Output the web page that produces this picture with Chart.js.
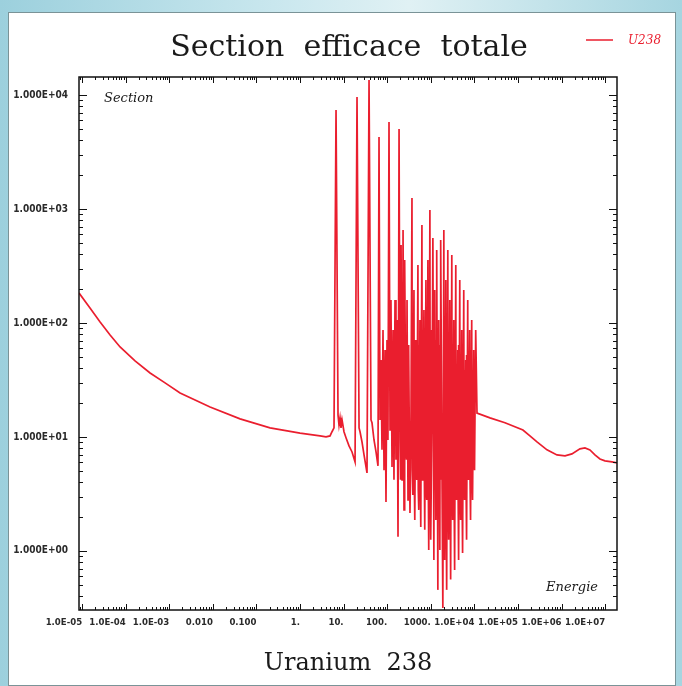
<!DOCTYPE html>
<html>
<head>
<meta charset="utf-8">
<script src="https://cdn.jsdelivr.net/npm/chart.js@4.4.1/dist/chart.umd.min.js"></script>
<style>
    body { margin: 0; width: 682px; height: 686px; position: relative; overflow: hidden;
           background: linear-gradient(90deg, #9cd0dd 0%, #c9e7ee 40%, #e0f1f4 60%, #a6d5e0 100%); }
    #cadre { position: absolute; left: 8px; top: 12px; width: 668px; height: 674px;
             background: #fff; border: 1px solid #7a9397; box-sizing: border-box; }
    #graf { position: absolute; left: 0; top: 0; }
</style>
</head>
<body>
<div id="cadre"></div>
<canvas id="graf" width="682" height="686"></canvas>
<script>
// Section efficace totale de l'U238 (barns) en fonction de l'energie (eV)
const energies = [
    8.53e-6, 1.52e-5, 2.59e-5, 4.39e-5, 7.44e-5, 1.64e-4, 3.63e-4, 8.01e-4, 1.77e-3, 8.63e-3,
    0.0421, 0.205, 1, 2.88,
    3.95, 4.88, 5.42, 6.02, 6.70, 7.44, 7.84, 8.27, 8.71, 9.20,
    10.2, 11.4, 13.3, 15.6, 18.3, 20.3, 22.6, 23.8, 26.4, 29.4,
    34.4, 38.3, 42.5, 44.8, 49.8, 55.4, 61.5, 64.9,
    68.4, 72.1, 76.0, 80.1, 84.5, 89.1, 93.8, 98.9, 104, 110,
    116, 122, 129, 136, 143, 151, 159, 168, 177, 187,
    197, 200.5, 204.1, 208, 219, 222.9, 226.9, 231, 243, 247.4, 251.7, 256,
    270, 274.9, 279.7, 285, 300, 305.4, 310.8, 316, 333, 351,
    370, 376.7, 383.3, 390, 411, 418.4, 425.8, 433, 457, 465.2, 473.5, 481,
    507, 516.1, 525.3, 535, 564, 574.2, 584.3, 594, 626, 637.3, 648.5, 660,
    696, 708.5, 721.1, 733, 773, 786.9, 800.8, 815, 859, 874.5, 889.9, 905,
    954, 971.2, 988.3, 1005, 1060, 1117,
    1177, 1198, 1219, 1241, 1308, 1332, 1355, 1378, 1453, 1479, 1505, 1531,
    1614, 1643, 1672, 1701, 1793, 1890,
    1992, 2028, 2064, 2099, 2213, 2253, 2293, 2332, 2458, 2502, 2546, 2591,
    2731, 2780, 2829, 2878, 3034, 3089, 3143, 3198, 3370, 3431, 3491, 3552,
    3744, 3811, 3879, 3946, 4159, 4234, 4309, 4384, 4621, 4704, 4787, 4870,
    5133, 5225, 5318, 5410, 5703, 5806, 5908, 6010, 6335, 6449, 6563, 6677,
    7038, 7165, 7291, 7418, 7818, 7959, 8099, 8241, 8686, 8842, 8999, 9155,
    9649, 9823, 9996, 10170, 10720,
    11480, 22800, 50300, 1.30e5, 1.88e5, 2.73e5, 4.63e5, 7.84e5, 1.20e6, 1.73e6,
    2.64e6, 3.44e6, 4.48e6, 5.83e6, 7.6e6, 9.9e6, 1.43e7, 1.87e7
]
const sections = [
    183, 135, 102, 78.5, 61.6, 46.4, 36.4, 29.8, 24.3, 18.3,
    14.4, 12.0, 10.8, 10.2,
    10.0, 10.2, 11.1, 12.0, 7390, 15.6, 12.7, 14.7, 12.0, 14.1,
    11.1, 9.8, 8.34, 7.38, 6.04, 9600, 12.0, 11.1, 9.04, 6.95,
    4.83, 13540, 14.1, 13.3, 9.4, 7.38, 5.57, 4280,
    14.1, 47.4, 7.7, 86.8, 5.1, 58, 2.69, 71, 9.4, 5800,
    11.5, 159, 5.45, 86.8, 4.2, 159, 6.3, 106, 1.33, 5040,
    9.4, 58, 4.2, 484, 4.2, 47.4, 5.1, 655, 2.29, 71, 3.43, 357,
    7.7, 42.8, 6.3, 159, 2.8, 64.1, 4.6, 58, 2.15, 14.1,
    1250, 5.1, 58, 3.10, 195, 4.2, 71, 1.87, 71, 6.3, 47.4, 4.2,
    323, 3.43, 64.1, 2.29, 106, 5.1, 52.4, 1.62, 724, 4.2, 78.5, 5.1,
    130, 5.7, 47.4, 1.53, 238, 3.43, 71, 2.8, 357, 4.6, 58, 1.02,
    980, 4.2, 86.8, 1.25, 14.1, 557,
    0.83, 58, 3.43, 195, 1.87, 71, 5.1, 437, 0.455, 47.4, 2.8, 106,
    1.02, 64.1, 4.2, 535, 7.7, 0.316,
    655, 4.2, 71, 0.83, 238, 2.8, 52.4, 0.455, 437, 5.1, 78.5, 1.25,
    159, 3.43, 47.4, 0.56, 395, 4.6, 64.1, 1.87, 106, 3.10, 58, 0.68,
    323, 5.1, 42.8, 2.8, 58, 3.43, 64.1, 0.83, 238, 4.2, 47.4, 1.87,
    86.8, 3.10, 58, 0.96, 195, 5.1, 38.7, 2.8, 47.4, 3.79, 52.4, 1.25,
    159, 5.1, 42.8, 4.2, 86.8, 4.2, 58, 1.87, 106, 5.1, 38.7, 2.8,
    58, 7.7, 31.6, 5.1, 86.8,
    16.2, 14.7, 13.3, 11.5, 10.2, 9.04, 7.7, 6.95, 6.81, 7.1,
    7.85, 8.0, 7.7, 6.95, 6.41, 6.16, 6.04, 5.92
]
const nomSerie = "U238"

// graduations
const xTickValues = [1e-5, 1e-4, 1e-3, 1e-2, 0.1, 1, 10, 100, 1000, 1e4, 1e5, 1e6, 1e7]
const xTickLabels = ["1.0E-05", "1.0E-04", "1.0E-03", "0.010", "0.100", "1.", "10.", "100.", "1000.", "1.0E+04", "1.0E+05", "1.0E+06", "1.0E+07"]
const yTickValues = [1, 10, 100, 1000, 10000]
const yTickLabels = ["1.000E+00", "1.000E+01", "1.000E+02", "1.000E+03", "1.000E+04"]

if (energies.length !== sections.length) console.warn("tailles differentes", energies.length, sections.length)

const rouge = "rgb(234, 30, 46)"
const fonteAxe = '"DejaVu Sans Condensed", "Liberation Sans Narrow", sans-serif'

// textes, cadre et graduations internes
const decor = {
    id: "decor",
    afterDatasetsDraw(chart) {
        const { ctx, chartArea: a, scales: { x, y } } = chart
        ctx.save()
        ctx.strokeStyle = "#111"
        ctx.lineWidth = 1
        ctx.beginPath()
        for (let e = -6; e <= 7; e++) {
            for (let m = 1; m <= 9; m++) {
                const v = m * Math.pow(10, e)
                if (v < x.min || v > x.max) continue
                const px = Math.round(x.getPixelForValue(v)) + 0.5
                const len = m === 1 ? 6 : 3
                ctx.moveTo(px, a.bottom); ctx.lineTo(px, a.bottom - len)
                ctx.moveTo(px, a.top); ctx.lineTo(px, a.top + len)
            }
        }
        for (let e = -1; e <= 4; e++) {
            for (let m = 1; m <= 9; m++) {
                const v = m * Math.pow(10, e)
                if (v < y.min || v > y.max) continue
                const py = Math.round(y.getPixelForValue(v)) + 0.5
                const len = m === 1 ? 8 : 4
                ctx.moveTo(a.left, py); ctx.lineTo(a.left + len, py)
                ctx.moveTo(a.right, py); ctx.lineTo(a.right - len, py)
            }
        }
        ctx.stroke()
        ctx.lineWidth = 1.5
        ctx.strokeRect(a.left, a.top, a.right - a.left, a.bottom - a.top)
        ctx.restore()
    },
    afterDraw(chart) {
        const { ctx, chartArea: a } = chart
        ctx.save()
        ctx.fillStyle = "#1a1a1a"
        ctx.textBaseline = "alphabetic"
        ctx.textAlign = "center"
        ctx.font = '30px "DejaVu Serif", serif'
        ctx.fillText("Section  efficace  totale", 349, 56)

        // legende
        ctx.strokeStyle = rouge
        ctx.lineWidth = 1.5
        ctx.beginPath(); ctx.moveTo(586, 40); ctx.lineTo(613, 40); ctx.stroke()
        ctx.fillStyle = rouge
        ctx.textAlign = "left"
        ctx.font = 'italic 12px "DejaVu Serif", serif'
        ctx.fillText(nomSerie, 628, 44)

        // noms des axes dans le cadre
        ctx.fillStyle = "#1a1a1a"
        ctx.font = 'italic 13px "DejaVu Serif", serif'
        ctx.fillText("Section", a.left + 25, a.top + 25)
        ctx.textAlign = "right"
        ctx.fillText("Energie", a.right - 19, a.bottom - 19)
        ctx.restore()
    }
}

new Chart(document.getElementById("graf"), {
    type: "line",
    data: {
        datasets: [{
            label: nomSerie,
            data: energies.map((e, i) => ({ x: e, y: sections[i] })),
            borderColor: rouge,
            borderWidth: 1.7,
            pointRadius: 0,
            tension: 0,
            fill: false
        }]
    },
    options: {
        responsive: false,
        animation: false,
        layout: { padding: { top: 77, right: 65, left: 0, bottom: 0 } },
        plugins: {
            legend: { display: false },
            title: { display: false },
            tooltip: { enabled: false }
        },
        scales: {
            x: {
                type: "logarithmic",
                min: 8.5e-6,
                max: 1.87e7,
                bounds: "data",
                grid: { display: false, drawTicks: false },
                border: { display: false },
                afterBuildTicks: s => { s.ticks = xTickValues.map(v => ({ value: v })) },
                afterFit: s => { s.height = 76 },
                ticks: {
                    autoSkip: false,
                    maxRotation: 0,
                    minRotation: 0,
                    align: "end",
                    padding: 7,
                    color: "#2a2a2a",
                    font: { family: fonteAxe, size: 9.5, weight: "bold" },
                    callback: (v, i) => xTickLabels[i]
                },
                title: {
                    display: true,
                    text: "Uranium  238",
                    color: "#1a1a1a",
                    font: { family: '"DejaVu Serif", serif', size: 24 },
                    padding: { top: 0, bottom: 8 }
                }
            },
            y: {
                type: "logarithmic",
                min: 0.303,
                max: 14380,
                bounds: "data",
                grid: { display: false, drawTicks: false },
                border: { display: false },
                afterBuildTicks: s => { s.ticks = yTickValues.map(v => ({ value: v })) },
                afterFit: s => { s.width = 79 },
                ticks: {
                    autoSkip: false,
                    padding: 11,
                    color: "#2a2a2a",
                    font: { family: fonteAxe, size: 10, weight: "bold" },
                    callback: (v, i) => yTickLabels[i]
                }
            }
        }
    },
    plugins: [decor]
})
</script>
</body>
</html>
